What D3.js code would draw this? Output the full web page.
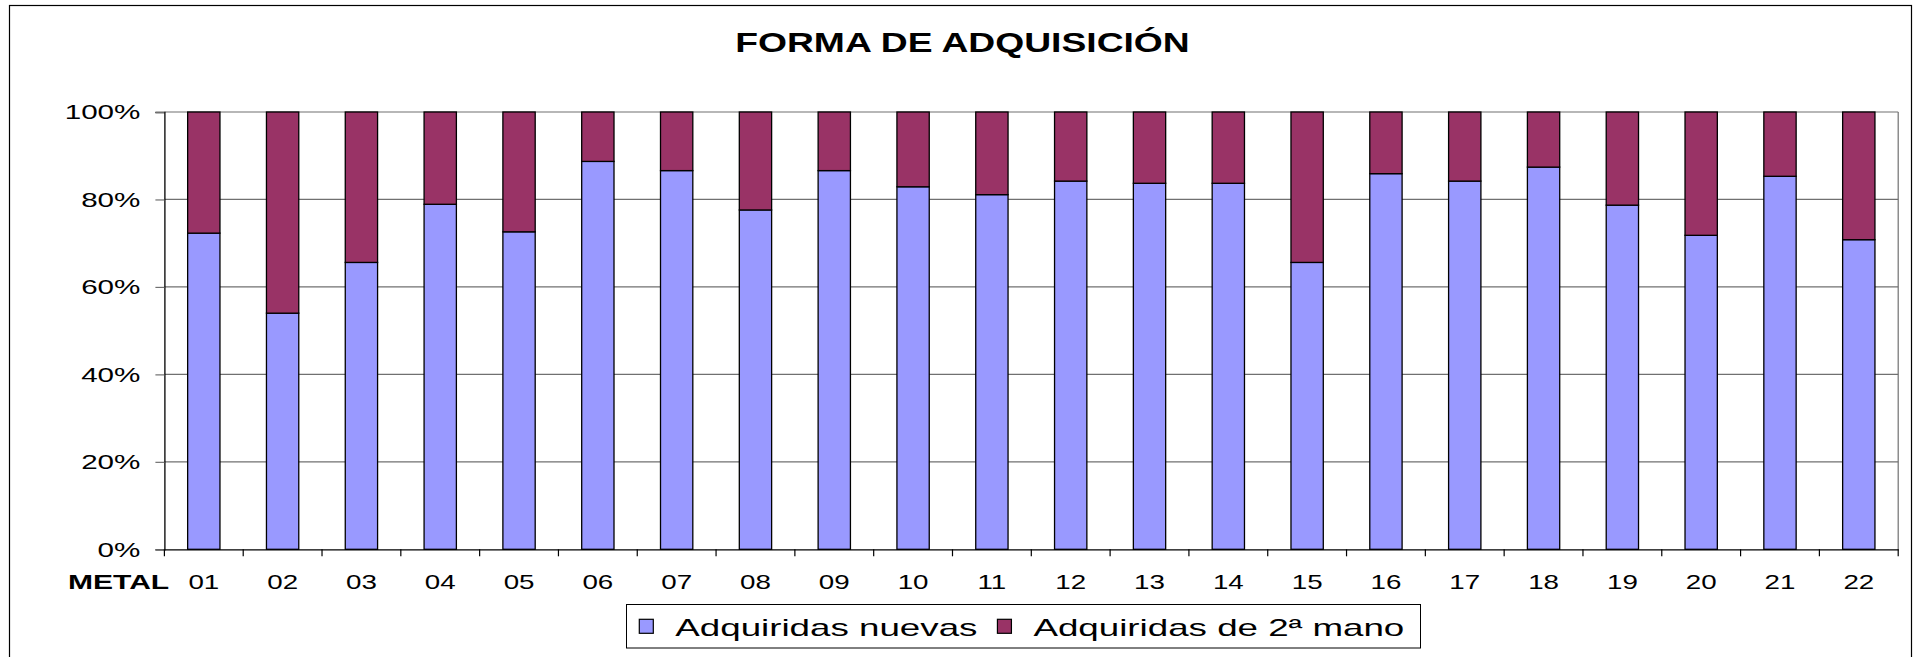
<!doctype html>
<html lang="es">
<head>
<meta charset="UTF-8">
<title>Forma de adquisición</title>
<script src="https://d3js.org/d3.v7.min.js"></script>
<style>
  body { margin: 0; background: #fff; }
  text { font-family: "Liberation Sans", Arial, sans-serif; fill: #000; }
</style>
</head>
<body>
<div id="chart-area"></div>

<script>

// values (% of each group)
const categories = ['01', '02', '03', '04', '05', '06', '07', '08', '09', '10', '11',
                    '12', '13', '14', '15', '16', '17', '18', '19', '20', '21', '22'];
const nuevas      = [72.3, 54.0, 65.6, 78.9, 72.6, 88.7, 86.6, 77.6, 86.6, 82.9, 81.1,
                     84.2, 83.7, 83.7, 65.6, 85.9, 84.2, 87.4, 78.7, 71.8, 85.3, 70.8];
const segundaMano = [27.7, 46.0, 34.4, 21.1, 27.4, 11.3, 13.4, 22.4, 13.4, 17.1, 18.9,
                     15.8, 16.3, 16.3, 34.4, 14.1, 15.8, 12.6, 21.3, 28.2, 14.7, 29.2];
const seriesNames = ['Adquiridas nuevas', 'Adquiridas de 2ª mano'];
const yTicks      = [0, 0.2, 0.4, 0.6, 0.8, 1];
const yTickLabels = ['0%', '20%', '40%', '60%', '80%', '100%'];

const W = 1914, H = 657;
const margin = { top: 112, right: 15.8, bottom: 107.7, left: 164.4 };
const chartW = W - margin.left - margin.right;
const chartH = H - margin.top - margin.bottom;
const colors = ['#9999ff', '#993366'];

// the original picture is stretched sideways, so text is widened too
function widen(sel, k) {
    sel.each(function () {
        const w = this.getComputedTextLength();
        d3.select(this)
            .attr('textLength', w * k)
            .attr('lengthAdjust', 'spacingAndGlyphs');
    });
}

const svg = d3.select('#chart-area')
    .append('svg')
    .attr('width', W)
    .attr('height', H);

// chart border
svg.append('rect')
    .attr('x', 9.5).attr('y', 5.5)
    .attr('width', 1902).attr('height', 700)
    .attr('fill', '#fff')
    .attr('stroke', '#000')
    .attr('stroke-width', 1.2);

const title = svg.append('text')
    .attr('x', 962.5)
    .attr('y', 52.3)
    .attr('text-anchor', 'middle')
    .attr('font-size', '28px')
    .attr('font-weight', 'bold')
    .text('FORMA DE ADQUISICIÓN');
widen(title, 1.33);

const g = svg.append('g')
    .attr('transform', `translate(${margin.left},${margin.top})`);

const x = d3.scaleBand()
    .domain(categories)
    .range([0, chartW])
    .paddingInner(0.59)
    .paddingOuter(0.295);

const y = d3.scaleLinear()
    .domain([0, 1])
    .range([chartH, 0]);

// gridlines
g.selectAll('.grid')
    .data(yTicks.slice(1))
    .enter().append('line')
    .attr('class', 'grid')
    .attr('x1', 0).attr('x2', chartW)
    .attr('y1', d => y(d)).attr('y2', d => y(d))
    .attr('stroke', '#707070')
    .attr('stroke-width', 1.2);

// plot area right edge
g.append('line')
    .attr('x1', chartW).attr('x2', chartW)
    .attr('y1', 0).attr('y2', chartH)
    .attr('stroke', '#707070')
    .attr('stroke-width', 1.2);

const rows = categories.map((c, i) => ({ cat: c, a: nuevas[i], b: segundaMano[i] }));
const stacked = d3.stack()
    .keys(['a', 'b'])
    .offset(d3.stackOffsetExpand)(rows);

g.selectAll('.serie')
    .data(stacked)
    .enter().append('g')
    .attr('class', 'serie')
    .attr('fill', (d, i) => colors[i])
    .selectAll('rect')
    .data(d => d)
    .enter().append('rect')
    .attr('x', d => x(d.data.cat))
    .attr('y', d => y(d[1]))
    .attr('width', x.bandwidth())
    .attr('height', d => y(d[0]) - y(d[1]))
    .attr('stroke', '#000')
    .attr('stroke-width', 1.3);

// y axis
const yAxis = g.append('g')
    .call(d3.axisLeft(y)
        .tickValues(yTicks)
        .tickSize(9)
        .tickPadding(15)
        .tickFormat((d, i) => yTickLabels[i]));
yAxis.select('.domain').attr('stroke', '#000').attr('stroke-width', 1.3);
yAxis.selectAll('.tick line').attr('stroke', '#707070').attr('stroke-width', 1.2);
yAxis.selectAll('text')
    .attr('font-size', '21px')
    .attr('font-family', '"Liberation Sans", Arial, sans-serif')
    .call(widen, 1.41);

// x axis
const xAxis = g.append('g')
    .attr('transform', `translate(0,${chartH})`)
    .call(d3.axisBottom(x).tickSize(0).tickPadding(25));
xAxis.select('.domain').attr('stroke', '#000').attr('stroke-width', 1.3);
xAxis.selectAll('text')
    .attr('font-size', '21px')
    .attr('font-family', '"Liberation Sans", Arial, sans-serif')
    .call(widen, 1.32);

// ticks between categories
const gap = (x.step() - x.bandwidth()) / 2;
const bounds = categories.map(c => x(c) - gap).concat([chartW]);
xAxis.selectAll('.sep')
    .data(bounds)
    .enter().append('line')
    .attr('class', 'sep')
    .attr('x1', d => d).attr('x2', d => d)
    .attr('y1', 0).attr('y2', 7)
    .attr('stroke', '#000')
    .attr('stroke-width', 1.2);

const metal = svg.append('text')
    .attr('x', 68)
    .attr('y', 589.3)
    .attr('font-size', '21px')
    .attr('font-weight', 'bold')
    .text('METAL');
widen(metal, 1.43);

// legend
const legend = svg.append('g');
legend.append('rect')
    .attr('x', 626.5).attr('y', 604.5)
    .attr('width', 794).attr('height', 43.5)
    .attr('fill', '#fff')
    .attr('stroke', '#000')
    .attr('stroke-width', 1);

let lx = 639.3;
seriesNames.forEach((name, i) => {
    legend.append('rect')
        .attr('x', lx).attr('y', 619.3)
        .attr('width', 14).attr('height', 14)
        .attr('fill', colors[i])
        .attr('stroke', '#000')
        .attr('stroke-width', 1.2);
    const t = legend.append('text')
        .attr('x', lx + 36)
        .attr('y', 635.5)
        .attr('font-size', '24px')
        .text(name);
    widen(t, 1.53);
    lx += 36 + (+t.attr('textLength')) + 20;
});

</script>
</body>
</html>
